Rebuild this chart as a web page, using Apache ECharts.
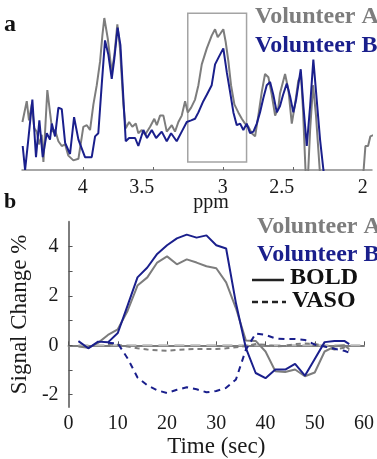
<!DOCTYPE html>
<html>
<head>
<meta charset="utf-8">
<title>Spectra and BOLD / VASO time courses</title>
<script src="https://cdn.jsdelivr.net/npm/echarts@6.0.0/dist/echarts.min.js"></script>
<style>
  html, body { margin: 0; padding: 0; background: #fff; }
  #chart { width: 377px; height: 459px; }
</style>
</head>
<body>
<div id="chart"></div>
<script>
// ---- panel a: spectra (ppm, arbitrary intensity) ----
const ppmA = [4.431, 4.400, 4.384, 4.364, 4.346, 4.329, 4.312, 4.293, 4.281, 4.253, 4.234, 4.217, 4.198, 4.174, 4.150,
  4.126, 4.103, 4.067, 4.031, 3.996, 3.971, 3.948, 3.924, 3.900, 3.876, 3.860, 3.846, 3.821, 3.793, 3.774,
  3.753, 3.734, 3.710, 3.693, 3.669, 3.646, 3.621, 3.603, 3.579, 3.555, 3.519, 3.489, 3.471, 3.448, 3.424,
  3.400, 3.364, 3.341, 3.317, 3.293, 3.269, 3.250, 3.226, 3.198, 3.174, 3.150, 3.114, 3.079, 3.055, 3.036,
  3.019, 2.996, 2.979, 2.960, 2.941, 2.917, 2.889, 2.864, 2.841, 2.817, 2.793, 2.769, 2.746, 2.721, 2.698,
  2.674, 2.650, 2.626, 2.603, 2.591, 2.555, 2.531, 2.507, 2.484, 2.460, 2.441, 2.427, 2.409, 2.394, 2.376,
  2.355, 2.334, 2.305, 2.284, 2.162, 2.019, 1.993, 1.981, 1.962, 1.946, 1.919]
const specA = [30, 43, 31, 41, 26, 24, 16, 22, 5, 50, 36, 24, 25, 18, 15,
  16, 9, 6, 7, 27, 28, 25, 41, 53, 68, 84, 95, 82, 61, 72,
  91, 76, 41, 26, 30, 27, 29, 23, 25, 22, 27, 32, 28, 34, 34,
  24, 28, 24, 30, 34, 43, 36, 39, 44, 53, 66, 76, 84, 88, 83,
  85, 88, 80, 68, 53, 41, 36, 32, 29, 27, 23, 21, 34, 49, 60,
  58, 47, 34, 39, 48, 60, 50, 29, 41, 56, 59, 38, 0, -9, 25,
  53, 34, -3, -19, -25, -19, 1, 15, 15, 21, 22]
const ppmB = [4.429, 4.412, 4.389, 4.360, 4.334, 4.310, 4.286, 4.257, 4.234, 4.221, 4.198, 4.174, 4.150, 4.126, 4.091,
  4.062, 4.031, 3.984, 3.936, 3.912, 3.889, 3.864, 3.841, 3.817, 3.793, 3.774, 3.751, 3.731, 3.710, 3.693,
  3.669, 3.626, 3.603, 3.567, 3.541, 3.507, 3.476, 3.436, 3.400, 3.369, 3.329, 3.293, 3.257, 3.226, 3.198,
  3.174, 3.139, 3.114, 3.079, 3.055, 3.026, 2.996, 2.971, 2.948, 2.924, 2.900, 2.876, 2.853, 2.829, 2.805,
  2.781, 2.757, 2.734, 2.710, 2.686, 2.662, 2.639, 2.614, 2.591, 2.569, 2.543, 2.519, 2.496, 2.476, 2.443,
  2.424, 2.400, 2.376, 2.353, 2.329, 2.305, 2.281, 2.262, 2.160, 1.920]
const specB = [15, 0, 19, 44, 8, 31, 8, 23, 19, 29, 21, 39, 38, 17, 10,
  33, 19, 8, 8, 21, 23, 54, 81, 72, 57, 70, 89, 78, 45, 18,
  20, 20, 15, 25, 20, 25, 20, 24, 18, 23, 18, 24, 30, 31, 32,
  36, 43, 47, 53, 66, 71, 76, 61, 49, 36, 28, 29, 25, 29, 23,
  24, 29, 36, 45, 53, 55, 47, 36, 40, 47, 54, 46, 36, 44, 63,
  40, 15, 40, 69, 44, 19, 0, -12, -19, -19]
const ppmTicks = [2, 2.5, 3, 3.5, 4]
const boxPpm = [3.25, 2.83]
const boxLevel = [5, 98]

// ---- panel b: signal change (%) over time (sec) ----
const timeBold = [2, 4, 6, 8, 10, 12, 14, 16, 18, 20, 22, 24, 26, 28, 30, 32, 34, 36, 38, 40, 42, 44, 46, 48, 50, 52, 54, 56, 57]
const boldA = [-0.05, -0.1, 0.1, 0.42, 0.65, 1.4, 2.42, 2.75, 3.35, 3.6, 3.28, 3.48, 3.35, 3.2, 3.12, 2.55, 1.5, 0.2, 0.18,
  -0.25, -1.05, -1.08, -0.98, -1.25, -1.1, -0.25, -0.05, 0.0, -0.15]
const boldB = [0.17, -0.12, 0.15, 0.12, 0.5, 1.62, 2.75, 3.15, 3.7, 4.05, 4.33, 4.48, 4.36, 4.45, 4.05, 3.92, 1.7, -0.1, -1.12,
  -1.33, -0.98, -0.98, -0.75, -1.23, -0.55, 0.13, 0.18, 0.18, 0.05]
const timeVaso = [8, 10, 12, 14, 16, 18, 20, 22, 24, 26, 28, 30, 32, 34, 36, 38, 40, 42, 44, 46, 48, 50, 52, 54, 56, 57]
const vasoA = [0.05, 0.02, -0.05, -0.12, -0.17, -0.2, -0.22, -0.18, -0.16, -0.15, -0.15, -0.15, -0.12, -0.08, -0.03, 0.05,
  0.02, -0.04, -0.02, 0.05, 0.07, 0.06, -0.04, -0.17, -0.1, -0.2]
const vasoB = [0.1, 0.08, -0.53, -1.3, -1.62, -1.82, -1.93, -1.8, -1.7, -1.78, -1.9, -1.85, -1.72, -1.38, -0.18, 0.48,
  0.42, 0.28, 0.25, 0.26, 0.22, 0.03, -0.05, -0.14, -0.22, -0.3]
const zeroSpan = [2, 60]
const timeTicks = [0, 10, 20, 30, 40, 50, 60]
const signalTicks = [-2, -1, 0, 1, 2, 3, 4]
const signalLabels = [-2, 0, 2, 4]

const GRAY = '#7d7d7d'
const NAVY = '#1a1f8c'
const SERIF = 'Liberation Serif'

function zip(xs, ys) {
  return xs.map((x, i) => [x, ys[i]])
}

const chart = echarts.init(document.getElementById('chart'))

const axisText = { color: '#1a1a1a', fontFamily: SERIF, fontSize: 20 }

chart.setOption({
  animation: false,
  backgroundColor: '#fff',
  grid: [
    { left: 22, right: 5, top: 10, bottom: 289 },
    { left: 62, right: 9, top: 221.8, bottom: 49 }
  ],
  xAxis: [
    {
      gridIndex: 0,
      type: 'value',
      inverse: true,
      min: 1.934,
      max: 4.434,
      splitLine: { show: false },
      axisLine: { lineStyle: { color: '#8a8a8a', width: 1.5 } },
      axisTick: { inside: true, length: 3, customValues: ppmTicks, lineStyle: { color: '#666' } },
      axisLabel: {
        ...axisText,
        margin: 8,
        customValues: ppmTicks,
        formatter: v => (v % 1 ? '{s|' + v + '}' : '{n|' + v + '}'),
        rich: {
          s: { ...axisText, padding: [0, 22, 0, 0] },
          n: { ...axisText }
        }
      }
    },
    {
      gridIndex: 1,
      type: 'value',
      min: 0,
      max: 60,
      splitLine: { show: false },
      axisLine: { lineStyle: { color: GRAY, width: 2 } },
      axisTick: { inside: true, length: 4, customValues: timeTicks, lineStyle: { color: '#555' } },
      axisLabel: { ...axisText, margin: 7, customValues: timeTicks },
      name: 'Time (sec)',
      nameLocation: 'middle',
      nameGap: 12,
      nameTextStyle: { color: '#1a1a1a', fontFamily: SERIF, fontSize: 23, verticalAlign: 'top' }
    }
  ],
  yAxis: [
    { gridIndex: 0, type: 'value', min: 0, max: 100, show: false },
    {
      gridIndex: 1,
      type: 'value',
      min: -2.5,
      max: 5,
      splitLine: { show: false },
      axisLine: { show: true, lineStyle: { color: GRAY, width: 2 } },
      axisTick: { show: true, inside: true, length: 4, customValues: signalTicks, lineStyle: { color: '#555' } },
      axisLabel: { ...axisText, margin: 10, customValues: signalLabels },
      name: 'Signal Change %',
      nameLocation: 'middle',
      nameRotate: 90,
      nameGap: 33,
      nameTextStyle: { color: '#1a1a1a', fontFamily: SERIF, fontSize: 23 }
    }
  ],
  series: [
    {
      name: 'Volunteer A spectrum',
      type: 'line',
      xAxisIndex: 0,
      yAxisIndex: 0,
      data: zip(ppmA, specA),
      showSymbol: false,
      lineStyle: { color: GRAY, width: 2 },
      markArea: {
        silent: true,
        itemStyle: { color: 'rgba(0,0,0,0)', borderColor: '#a4a4a4', borderWidth: 1.5 },
        data: [[{ coord: [boxPpm[0], boxLevel[0]] }, { coord: [boxPpm[1], boxLevel[1]] }]]
      }
    },
    {
      name: 'Volunteer B spectrum',
      type: 'line',
      xAxisIndex: 0,
      yAxisIndex: 0,
      data: zip(ppmB, specB),
      showSymbol: false,
      lineStyle: { color: NAVY, width: 2 }
    },
    {
      name: 'zero',
      type: 'line',
      xAxisIndex: 1,
      yAxisIndex: 1,
      data: zeroSpan.map(t => [t, 0]),
      showSymbol: false,
      silent: true,
      z: 1,
      lineStyle: { color: '#b9b9b9', width: 2, type: [10, 6] }
    },
    {
      name: 'VASO A',
      type: 'line',
      xAxisIndex: 1,
      yAxisIndex: 1,
      data: zip(timeVaso, vasoA),
      showSymbol: false,
      lineStyle: { color: GRAY, width: 2, type: [5, 4] }
    },
    {
      name: 'BOLD A',
      type: 'line',
      xAxisIndex: 1,
      yAxisIndex: 1,
      data: zip(timeBold, boldA),
      showSymbol: false,
      lineStyle: { color: GRAY, width: 2 }
    },
    {
      name: 'VASO B',
      type: 'line',
      xAxisIndex: 1,
      yAxisIndex: 1,
      data: zip(timeVaso, vasoB),
      showSymbol: false,
      lineStyle: { color: NAVY, width: 2, type: [6, 5] }
    },
    {
      name: 'BOLD B',
      type: 'line',
      xAxisIndex: 1,
      yAxisIndex: 1,
      data: zip(timeBold, boldB),
      showSymbol: false,
      lineStyle: { color: NAVY, width: 2 }
    }
  ],
  graphic: [
    // panel letters
    { type: 'text', left: 4, top: 13, style: { text: 'a', fill: '#111', font: 'bold 24px "Liberation Serif"' } },
    { type: 'text', left: 4, top: 191, style: { text: 'b', fill: '#111', font: 'bold 22px "Liberation Serif"' } },
    // axis name of panel a
    { type: 'text', x: 211, y: 203, style: { text: 'ppm', fill: '#1a1a1a', font: '20px "Liberation Serif"', align: 'center', verticalAlign: 'middle' } },
    // panel a legend
    { type: 'text', x: 255, y: 17, style: { text: 'Volunteer A', fill: GRAY, font: 'bold 24px "Liberation Serif"', verticalAlign: 'middle' } },
    { type: 'text', x: 255, y: 46, style: { text: 'Volunteer B', fill: NAVY, font: 'bold 24px "Liberation Serif"', verticalAlign: 'middle' } },
    // panel b legend
    { type: 'text', x: 257, y: 227, style: { text: 'Volunteer A', fill: GRAY, font: 'bold 24px "Liberation Serif"', verticalAlign: 'middle' } },
    { type: 'text', x: 257, y: 255, style: { text: 'Volunteer B', fill: NAVY, font: 'bold 24px "Liberation Serif"', verticalAlign: 'middle' } },
    { type: 'line', shape: { x1: 252, y1: 280, x2: 284, y2: 280 }, style: { stroke: '#222', lineWidth: 2.5 } },
    { type: 'text', x: 290, y: 278, style: { text: 'BOLD', fill: '#111', font: 'bold 24px "Liberation Serif"', verticalAlign: 'middle' } },
    { type: 'line', shape: { x1: 252, y1: 302, x2: 286, y2: 302 }, style: { stroke: '#222', lineWidth: 2.5, lineDash: [6, 4] } },
    { type: 'text', x: 292, y: 301, style: { text: 'VASO', fill: '#111', font: 'bold 24px "Liberation Serif"', verticalAlign: 'middle' } }
  ]
})
</script>
</body>
</html>
